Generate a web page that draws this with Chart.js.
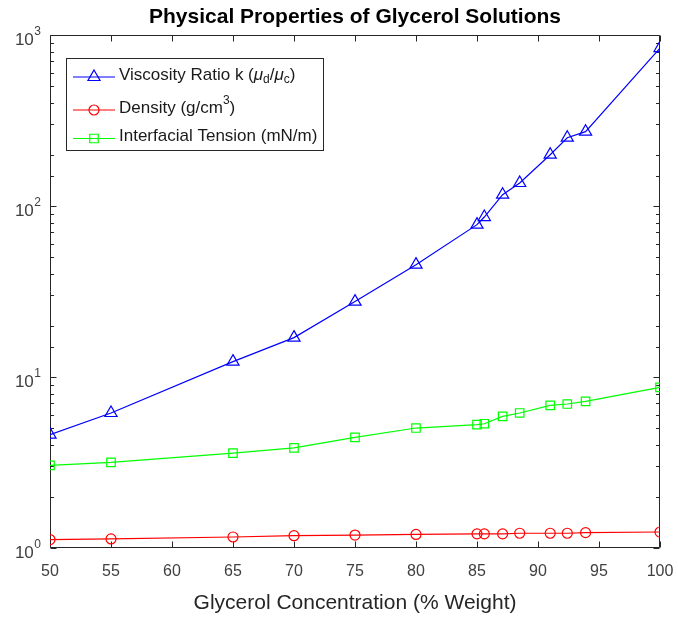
<!DOCTYPE html>
<html>
<head>
<meta charset="utf-8">
<title>Physical Properties of Glycerol Solutions</title>
<script src="https://cdn.jsdelivr.net/npm/chart.js@4/dist/chart.umd.min.js"></script>
<style>
  html, body { margin: 0; padding: 0; background: #fff; }
  canvas { display: block; }
</style>
</head>
<body>
<canvas id="c" width="678" height="619"></canvas>
<script>
// Glycerol concentration (% by weight)
const concentration = [50, 55, 65, 70, 75, 80, 85, 85.6, 87.1, 88.5, 91, 92.4, 93.9, 100];
// Viscosity ratio k = mu_d / mu_c
const viscosityRatio = [4.6, 6.16, 12.3, 17.0, 27.6, 45.4, 77.8, 86.2, 116.4, 136.3, 199.5, 250.8, 272, 839];
// Density (g/cm^3)
const density = [1.12, 1.13, 1.16, 1.18, 1.19, 1.2, 1.21, 1.21, 1.21, 1.22, 1.22, 1.22, 1.23, 1.24];
// Interfacial tension (mN/m)
const interfacialTension = [3.04, 3.17, 3.59, 3.85, 4.43, 5.03, 5.26, 5.33, 5.88, 6.16, 6.82, 6.95, 7.2, 8.69];

const xTickValues = [50, 55, 60, 65, 70, 75, 80, 85, 90, 95, 100];
const yDecades = [1, 10, 100, 1000];
const yDecadeExponents = ['0', '1', '2', '3'];

const seriesNames = ['Viscosity Ratio k (\u03bcd/\u03bcc)', 'Density (g/cm3)', 'Interfacial Tension (mN/m)'];
const seriesColors = ['#0000ff', '#ff0000', '#00ff00'];
const seriesMarkers = ['triangle', 'circle', 'rect'];

// Legend labels as rich-text runs (sub/superscripts, italic mu)
const legendRuns = [
  [{t: 'Viscosity Ratio k ('}, {t: '\u03bc', it: true}, {t: 'd', sub: true}, {t: '/'}, {t: '\u03bc', it: true}, {t: 'c', sub: true}, {t: ')'}],
  [{t: 'Density (g/cm'}, {t: '3', sup: true}, {t: ')'}],
  [{t: 'Interfacial Tension (mN/m)'}]
];

const FONT = "'Liberation Sans', Arial, Helvetica, sans-serif";
const AXIS_COLOR = '#262626';
const LABEL_COLOR = '#404040';
const markerRadius = [7, 5, 6];

const toPoints = (ys) => concentration.map((c, i) => ({x: c, y: ys[i]}));

const datasets = [viscosityRatio, density, interfacialTension].map((ys, k) => ({
  label: seriesNames[k],
  data: toPoints(ys),
  borderColor: seriesColors[k],
  backgroundColor: seriesColors[k],
  borderWidth: 1.2,
  tension: 0,
  fill: false,
  pointStyle: seriesMarkers[k],
  pointRadius: markerRadius[k],
  pointHoverRadius: markerRadius[k],
  pointBorderColor: seriesColors[k],
  pointBackgroundColor: 'rgba(0,0,0,0)',
  pointBorderWidth: 1.2
}));

// Box around the plot area with inward tick marks on all four sides
const axesBox = {
  id: 'axesBox',
  beforeDatasetsDraw(chart) {
    const {ctx, chartArea, scales} = chart;
    const L = Math.round(chartArea.left) + 0.5;
    const R = Math.round(chartArea.right) - 0.5;
    const T = Math.round(chartArea.top) + 0.5;
    const B = Math.round(chartArea.bottom) - 0.5;
    ctx.save();
    ctx.strokeStyle = AXIS_COLOR;
    ctx.lineWidth = 1;
    ctx.beginPath();
    ctx.rect(L, T, R - L, B - T);
    ctx.stroke();
    ctx.beginPath();
    xTickValues.forEach(v => {
      const px = Math.round(scales.x.getPixelForValue(v)) + 0.5;
      ctx.moveTo(px, B); ctx.lineTo(px, B - 6);
      ctx.moveTo(px, T); ctx.lineTo(px, T + 6);
    });
    scales.y.ticks.forEach(t => {
      const py = Math.round(scales.y.getPixelForValue(t.value)) + 0.5;
      const major = yDecades.includes(t.value);
      const len = major ? 6 : 3.5;
      ctx.moveTo(L, py); ctx.lineTo(L + len, py);
      ctx.moveTo(R, py); ctx.lineTo(R - len, py);
    });
    ctx.stroke();
    ctx.restore();
  }
};

// Power-of-ten labels (base plus raised exponent) beside the log axis
const decadeLabels = {
  id: 'decadeLabels',
  afterDraw(chart) {
    const {ctx, scales} = chart;
    const right = 41;
    ctx.save();
    ctx.fillStyle = LABEL_COLOR;
    ctx.textBaseline = 'middle';
    ctx.textAlign = 'right';
    yDecades.forEach((v, i) => {
      const py = scales.y.getPixelForValue(v);
      ctx.font = '12px ' + FONT;
      const ew = ctx.measureText(yDecadeExponents[i]).width;
      ctx.fillText(yDecadeExponents[i], right, py - 3);
      ctx.font = '17px ' + FONT;
      ctx.fillText('10', right - ew - 0.5, py + 5);
    });
    ctx.restore();
  }
};

function drawRuns(ctx, runs, x, y, size) {
  let cx = x;
  runs.forEach(r => {
    const s = (r.sub || r.sup) ? Math.round(size * 0.72) : size;
    ctx.font = (r.it ? 'italic ' : '') + s + 'px ' + FONT;
    const dy = r.sub ? 5 : (r.sup ? -7 : 0);
    ctx.fillText(r.t, cx, y + dy);
    cx += ctx.measureText(r.t).width;
  });
}

// Boxed legend in the upper-left corner
const boxLegend = {
  id: 'boxLegend',
  afterDraw(chart) {
    const {ctx} = chart;
    const box = {x: 66.5, y: 58.5, w: 257, h: 92};
    const rows = [77, 110, 138.5];
    ctx.save();
    ctx.fillStyle = '#ffffff';
    ctx.fillRect(box.x, box.y, box.w, box.h);
    ctx.strokeStyle = AXIS_COLOR;
    ctx.lineWidth = 1;
    ctx.strokeRect(box.x, box.y, box.w, box.h);
    chart.data.datasets.forEach((ds, k) => {
      const y = rows[k];
      ctx.strokeStyle = ds.borderColor;
      ctx.lineWidth = 1.2;
      ctx.beginPath();
      ctx.moveTo(73, y); ctx.lineTo(115, y);
      ctx.stroke();
      ctx.fillStyle = 'rgba(0,0,0,0)';
      Chart.helpers.drawPoint(ctx, {pointStyle: ds.pointStyle, radius: ds.pointRadius, rotation: 0, borderWidth: 1.2}, 94, y);
      ctx.fillStyle = '#1a1a1a';
      ctx.textBaseline = 'middle';
      ctx.textAlign = 'left';
      drawRuns(ctx, legendRuns[k], 119, y - 2, 17);
    });
    ctx.restore();
  }
};

new Chart(document.getElementById('c'), {
  type: 'line',
  data: {datasets},
  options: {
    responsive: false,
    animation: false,
    events: [],
    layout: {padding: {left: 0, right: 18, top: 0, bottom: 0}},
    plugins: {
      legend: {display: false},
      tooltip: {enabled: false},
      title: {
        display: true,
        fullSize: false,
        text: 'Physical Properties of Glycerol Solutions',
        color: '#000000',
        font: {family: FONT, size: 21, weight: 'bold', lineHeight: 1},
        padding: {top: 7, bottom: 7}
      }
    },
    scales: {
      x: {
        type: 'linear',
        min: 50,
        max: 100,
        grid: {display: false},
        border: {display: false},
        afterBuildTicks(scale) { scale.ticks = xTickValues.map(v => ({value: v})); },
        afterFit(scale) {
          scale.height = 71;
          scale.paddingLeft = 0;
          scale.paddingRight = 0;
        },
        ticks: {
          color: LABEL_COLOR,
          font: {family: FONT, size: 16},
          padding: 6,
          maxRotation: 0,
          autoSkip: false,
          callback: (v) => String(v)
        },
        title: {
          display: true,
          text: 'Glycerol Concentration (% Weight)',
          color: '#262626',
          font: {family: FONT, size: 21},
          padding: {top: 4, bottom: 3}
        }
      },
      y: {
        type: 'logarithmic',
        min: 1,
        max: 1000,
        grid: {display: false},
        border: {display: false},
        afterFit(scale) {
          scale.width = 50;
          scale.paddingTop = 0;
          scale.paddingBottom = 0;
        },
        ticks: {
          autoSkip: false,
          callback: () => ''
        }
      }
    }
  },
  plugins: [axesBox, decadeLabels, boxLegend]
});
</script>
</body>
</html>
